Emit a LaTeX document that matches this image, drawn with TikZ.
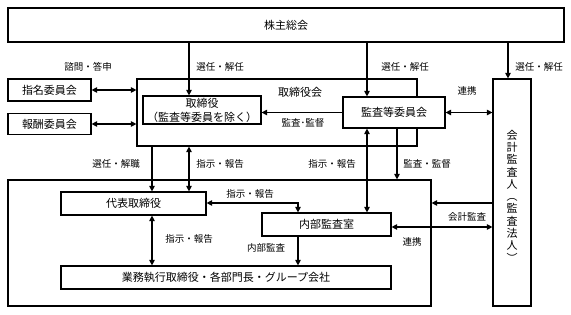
\documentclass[tikz,border=0pt]{standalone}
\usepackage{fontspec}
\setmainfont{Noto Sans CJK JP}
\usetikzlibrary{positioning,arrows.meta}

\begin{document}
\begin{tikzpicture}[
    x=1pt, y=-1pt,
    >={Triangle[length=5.5pt,width=5.5pt]},
    every path/.style={line width=1.2pt},
    box/.style={draw, fill=white, inner sep=0pt, align=center,
                font=\fontsize{11}{14}\selectfont},
    lbl/.style={font=\fontsize{9.5}{11}\selectfont, inner sep=0pt}
]
\useasboundingbox (0,0) rectangle (571,315);

% --- Outer frames ---
\node[box, minimum width=280pt, minimum height=67pt] (board) at (277,112.5) {};
\node[box, minimum width=423pt, minimum height=126pt] (shikko) at (219.5,243) {};

% --- Boxes ---
\node[box, minimum width=556pt, minimum height=34pt] (kabunushi) at (286,25) {株主総会};
\node[box, minimum width=83pt, minimum height=22pt] (shimei) at (49.5,90) {指名委員会};
\node[box, minimum width=83pt, minimum height=21pt] (hoshu) at (49.5,124) {報酬委員会};
\node[box, minimum width=118pt, minimum height=28pt] (torishimariyaku) at (202,110)
    {取締役\\（監査等委員を除く）};
\node[box, minimum width=102pt, minimum height=31pt] (kansa) at (394,112.5) {監査等委員会};
\node[box, minimum width=38pt, minimum height=227pt] (kaikei) at (512,192.5) {};
\node[font=\fontsize{11}{12.3}\selectfont, align=center] (kaikeitxt) at (512,196)
    {会\\計\\監\\査\\人\\︵\\監\\査\\法\\人\\︶};
\node[box, minimum width=145pt, minimum height=23pt] (daihyo) at (133.5,203.5) {代表取締役};
\node[box, minimum width=129pt, minimum height=23pt] (naibu) at (326.5,224.5) {内部監査室};
\node[box, minimum width=330pt, minimum height=23pt] (gyomu) at (226,277.5)
    {業務執行取締役・各部門長・グループ会社};

% --- Lanes ---
\coordinate (laneA) at (152,0);
\coordinate (laneB) at (189,0);
\coordinate (laneC) at (298,0);
\coordinate (laneD) at (367,0);
\coordinate (laneE) at (397,0);
\coordinate (laneF) at (508,0);
\coordinate (rowA) at (0,203);
\coordinate (rowB) at (0,227);

% --- Arrows ---
\draw[->] (kabunushi.south -| laneB) -- (torishimariyaku.north -| laneB);
\draw[->] (kabunushi.south -| laneD) -- (kansa.north -| laneD);
\draw[->] (kabunushi.south -| laneF) -- (kaikei.north -| laneF);
\draw[<->] (shimei.east) -- (shimei.east -| board.west);
\draw[<->] (hoshu.east) -- (hoshu.east -| board.west);
\draw[->] (kansa.west) -- (kansa.west -| torishimariyaku.east);
\draw[<->] (kansa.east) -- (kansa.east -| kaikei.west);
\draw[->] (board.south -| laneA) -- (daihyo.north -| laneA);
\draw[<->] (board.south -| laneB) -- (daihyo.north -| laneB);
\draw[<->] (kansa.south -| laneD) -- (naibu.north -| laneD);
\draw[->] (kansa.south -| laneE) -- (shikko.north -| laneE);
\draw[<->] (daihyo.east |- rowA) -| (naibu.north -| laneC);
\draw[->] (kaikei.west |- rowA) -- (shikko.east |- rowA);
\draw[<->] (naibu.east |- rowB) -- (kaikei.west |- rowB);
\draw[<->] (daihyo.south -| laneA) -- (gyomu.north -| laneA);
\draw[->] (naibu.south -| laneC) -- (gyomu.north -| laneC);

% --- Labels ---
\node[font=\fontsize{11}{13}\selectfont] (boardlbl) at (300,92) {取締役会};
\node[lbl] (l1) at (88,67) {諮問・答申};
\node[lbl] (l2) at (220,67) {選任・解任};
\node[lbl] (l3) at (405,67) {選任・解任};
\node[lbl] (l4) at (539,67) {選任・解任};
\node[lbl] (l5) at (467,91) {連携};
\node[lbl] (l6) at (303,123) {監査･監督};
\node[lbl] (l7) at (116,164) {選任・解職};
\node[lbl] (l8) at (220,164) {指示・報告};
\node[lbl] (l9) at (332,164) {指示・報告};
\node[lbl] (l10) at (427,164) {監査・監督};
\node[lbl] (l11) at (250,194) {指示・報告};
\node[lbl] (l12) at (467,217) {会計監査};
\node[lbl] (l13) at (412,242) {連携};
\node[lbl] (l14) at (266,248) {内部監査};
\node[lbl] (l15) at (189,239) {指示・報告};

\end{tikzpicture}
\end{document}
